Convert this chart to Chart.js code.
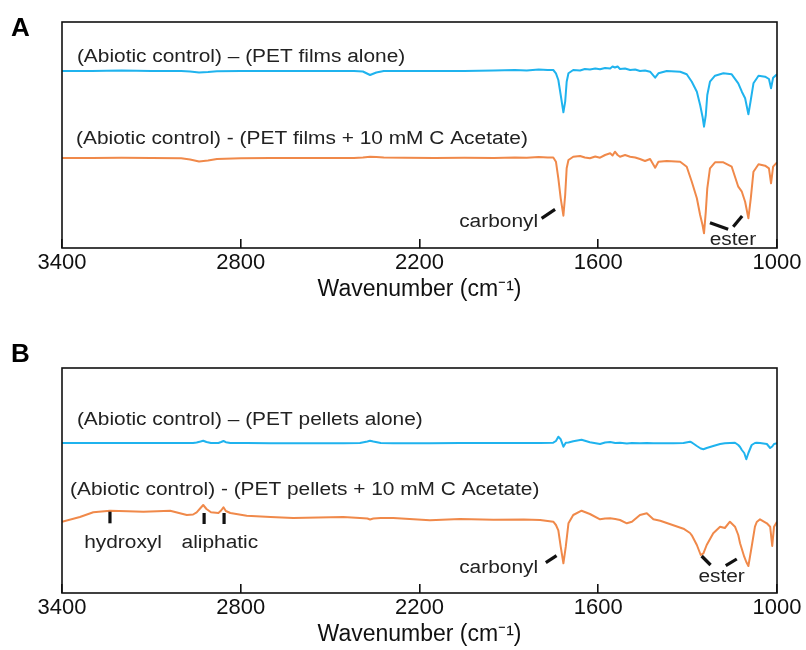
<!DOCTYPE html>
<html>
<head>
<meta charset="utf-8">
<script src="https://cdn.jsdelivr.net/npm/chart.js@4.4.1/dist/chart.umd.min.js"></script>
<style>
  html, body { margin: 0; padding: 0; background: #fff; }
  #wrap { position: relative; width: 806px; height: 650px; }
  canvas { position: absolute; left: 0; }
  #chartA { top: 0; }
  #chartB { top: 303px; }
</style>
</head>
<body>
<div id="wrap">
  <canvas id="chartA" width="806" height="303"></canvas>
  <canvas id="chartB" width="806" height="347"></canvas>
</div>
<script>
// === data (FTIR spectra, arbitrary offset units) ===
const xTicks = [3400, 2800, 2200, 1600, 1000];

const wnA = [3400, 3300, 3200, 3100, 3000, 2970, 2940, 2910, 2880, 2800,
  2700, 2600, 2500, 2420, 2390, 2366, 2345, 2320, 2250, 2150,
  2050, 1950, 1880, 1840, 1800, 1770, 1751, 1742, 1734, 1726,
  1717, 1711, 1706, 1700, 1684, 1661, 1645, 1628, 1610, 1594,
  1577, 1560, 1552, 1544, 1535, 1527, 1510, 1493, 1476, 1460,
  1443, 1426, 1409, 1398, 1370, 1325, 1303, 1286, 1269, 1258,
  1250, 1245, 1239, 1234, 1225, 1208, 1180, 1152, 1130, 1118,
  1107, 1096, 1088, 1079, 1062, 1040, 1027, 1020, 1013, 1000];
const filmsAlone = [177, 177, 177.5, 177, 177, 176.5, 175.5, 176, 176.8, 177,
  177, 177, 177, 177, 176.5, 173, 175.5, 177, 177, 177,
  177, 177.5, 178, 177.5, 178.5, 178, 178, 174.7, 168, 153,
  135.7, 146.3, 166.3, 174.7, 178, 177.5, 179, 178.5, 179.5, 178.7,
  180, 179.5, 181.5, 180.5, 181.5, 179, 179.5, 178, 178.5, 177,
  177.5, 176.3, 170.3, 174.7, 177, 176.3, 173.7, 166.3, 156.3, 143,
  131.3, 121.3, 133, 153, 166.3, 172.3, 174.7, 173.7, 164.7, 156.3,
  149.7, 133.7, 148, 164.7, 172.3, 171.3, 169, 159.7, 170.3, 173.7];
const filmsAcetate = [90, 90, 90.3, 90, 89.8, 88.5, 86.5, 87.5, 89, 89.7,
  90, 90, 90, 90, 90.5, 91.3, 91, 90.5, 90.3, 90,
  90.3, 90, 90.5, 90.3, 91, 90.5, 90.5, 86.3, 69.7, 49.7,
  32.3, 53, 79.7, 88, 91.3, 92, 90.5, 89.7, 91.5, 90.3,
  93, 94.7, 92.5, 96.3, 93, 91.3, 93, 91.3, 90.5, 89,
  87, 89, 80.3, 86.3, 87, 86.3, 81.3, 66.3, 49.7, 33,
  23, 14.7, 36.3, 59.7, 79.7, 85.7, 85.7, 81.3, 61.3, 56.3,
  46.3, 29.7, 49.7, 76.3, 83.7, 82.3, 79.7, 64.7, 81.3, 85.7];

const wnB = [3400, 3340, 3295, 3239, 3180, 3127, 3080, 3037, 2981, 2960,
  2948, 2935, 2926, 2915, 2900, 2875, 2866, 2858, 2850, 2835,
  2780, 2700, 2624, 2540, 2456, 2400, 2375, 2366, 2355, 2330,
  2288, 2165, 2064, 1952, 1850, 1795, 1751, 1742, 1734, 1726,
  1717, 1709, 1700, 1684, 1656, 1628, 1594, 1577, 1560, 1543,
  1527, 1504, 1487, 1460, 1437, 1415, 1392, 1348, 1314, 1292,
  1286, 1269, 1256, 1247, 1236, 1214, 1191, 1175, 1158, 1141,
  1130, 1124, 1118, 1110, 1103, 1096, 1085, 1074, 1068, 1057,
  1034, 1023, 1016, 1010, 1000];
const pelletsAlone = [150, 150, 150, 150, 150, 150, 150, 150, 150, 150,
  150.5, 151.5, 152.3, 151, 150, 150, 151, 152, 150.8, 150,
  150, 149.8, 149.8, 149.8, 149.8, 150, 151.5, 152.3, 151.5, 150,
  149.8, 149.8, 150, 150, 150, 150, 150.3, 152, 156.3, 153.7,
  146.3, 150.3, 150.5, 151.7, 153.3, 150.7, 149, 150.5, 151, 150,
  150.3, 149.5, 150, 149.7, 150, 149.7, 149.7, 149.7, 150, 151.3,
  150.5, 147, 144.5, 143.7, 145, 147, 149, 149.7, 150, 150.3,
  148, 146, 143, 140, 133.7, 140, 148, 150, 150.3, 150,
  149, 145, 146.5, 149, 149.7];
const pelletsAcetate = [71.3, 76, 80.7, 82.3, 81.8, 81.3, 81.8, 82.3, 78, 78.5,
  80.7, 85, 88, 84, 80.7, 80, 82.5, 85.7, 82, 80,
  77.3, 76, 75, 75.5, 76, 75, 74.5, 73.5, 74.5, 75,
  75, 72.7, 74, 73.3, 73.5, 73, 71.3, 68, 62.7, 46.3,
  29.7, 46.3, 69.7, 78, 82.3, 79, 73.7, 74.5, 74.7, 74,
  73, 69.7, 71.3, 78, 79.7, 73.7, 72.3, 67.7, 64.3, 60,
  57.7, 48, 38, 39.7, 48, 59.7, 66.3, 65, 71.3, 66.3,
  58, 49.7, 44, 36.3, 31, 27, 46.3, 66.3, 71, 73.7,
  69.7, 66.3, 47, 66.3, 71.3];

const BLUE = "#1fb3ee";
const ORANGE = "#f0894a";
const INK = "#222222";
const FONT = "'Liberation Sans', Arial, sans-serif";
const SX = 1.16; // the labels in the figure are a bit wider than plain Arial

function pts(xs, ys) {
  return xs.map((x, i) => ({ x: x, y: ys[i] }));
}

function wideText(ctx, text, x, y, align, size, bold) {
  ctx.save();
  ctx.translate(x, y);
  ctx.scale(SX, 1);
  ctx.font = (bold ? "bold " : "") + size + "px " + FONT;
  ctx.fillStyle = INK;
  ctx.textAlign = align;
  ctx.textBaseline = "middle";
  ctx.fillText(text, 0, 0);
  ctx.restore();
}

// === frame, labels and marker strokes ===
const decorPlugin = {
  id: "decor",
  afterDraw(chart, args, opts) {
    const { ctx, chartArea } = chart;
    const xs = chart.scales.x, ys = chart.scales.y;
    ctx.save();
    ctx.strokeStyle = "#111";
    ctx.lineWidth = 1.6;
    ctx.strokeRect(chartArea.left, chartArea.top, chartArea.right - chartArea.left, chartArea.bottom - chartArea.top);

    ctx.lineWidth = 3.2;
    ctx.lineCap = "butt";
    opts.marks.forEach(m => {
      ctx.beginPath();
      ctx.moveTo(xs.getPixelForValue(m[0]), ys.getPixelForValue(m[1]));
      ctx.lineTo(xs.getPixelForValue(m[2]), ys.getPixelForValue(m[3]));
      ctx.stroke();
    });
    ctx.restore();

    opts.texts.forEach(t => {
      wideText(ctx, t.text, xs.getPixelForValue(t.wn), ys.getPixelForValue(t.v), t.align, 18, false);
    });
    ctx.save();
    ctx.font = "bold 26px " + FONT;
    ctx.fillStyle = "#000";
    ctx.textBaseline = "middle";
    ctx.fillText(opts.letter, 11, opts.letterY);
    ctx.restore();
  }
};

function makeChart(id, wn, s1, s2, yMax, pad, decor) {
  return new Chart(document.getElementById(id), {
    type: "line",
    data: {
      datasets: [
        { data: pts(wn, s1), borderColor: BLUE, borderWidth: 2, pointRadius: 0, tension: 0, borderJoinStyle: "round" },
        { data: pts(wn, s2), borderColor: ORANGE, borderWidth: 2, pointRadius: 0, tension: 0, borderJoinStyle: "round" },
      ],
    },
    options: {
      responsive: false,
      animation: false,
      events: [],
      layout: { padding: pad },
      plugins: { legend: { display: false }, tooltip: { enabled: false }, decor: decor },
      scales: {
        x: {
          type: "linear",
          reverse: true,
          min: 1000,
          max: 3400,
          afterBuildTicks: s => { s.ticks = xTicks.map(v => ({ value: v })); },
          afterFit: s => { s.height = 55; s.paddingLeft = 0; s.paddingRight = 0; },
          ticks: {
            callback: v => String(v),
            color: "#111",
            font: { family: FONT, size: 22 },
            padding: 11,
            maxRotation: 0,
            autoSkip: false,
          },
          grid: { drawOnChartArea: false, drawTicks: true, tickLength: -9, color: "#111", lineWidth: 1.6 },
          border: { display: false },
          title: {
            display: true,
            text: "Wavenumber (cm\u207B\u00B9)",
            color: "#111",
            font: { family: FONT, size: 23 },
            padding: 0,
          },
        },
        y: { display: false, min: 0, max: yMax },
      },
    },
    plugins: [decorPlugin],
  });
}

makeChart("chartA", wnA, filmsAlone, filmsAcetate, 226,
  { left: 62, right: 29, top: 22, bottom: 0 },
  {
    letter: "A", letterY: 29,
    texts: [
      { text: "(Abiotic control) \u2013 (PET films alone)", wn: 3350, v: 191, align: "left" },
      { text: "(Abiotic control) - (PET films + 10 mM C Acetate)", wn: 3353, v: 109, align: "left" },
      { text: "carbonyl", wn: 1802, v: 26, align: "right" },
      { text: "ester", wn: 1148, v: 8, align: "center" },
    ],
    marks: [
      [1790, 29.7, 1745, 38.7],
      [1225, 25.3, 1164, 18.7],
      [1147, 21.3, 1117, 32],
    ],
  });

makeChart("chartB", wnB, pelletsAlone, pelletsAcetate, 225,
  { left: 62, right: 29, top: 65, bottom: 2 },
  {
    letter: "B", letterY: 52,
    texts: [
      { text: "(Abiotic control) \u2013 (PET pellets alone)", wn: 3350, v: 173, align: "left" },
      { text: "(Abiotic control) - (PET pellets + 10 mM C Acetate)", wn: 3373, v: 103, align: "left" },
      { text: "hydroxyl", wn: 3195, v: 50, align: "center" },
      { text: "aliphatic", wn: 2870, v: 50, align: "center" },
      { text: "carbonyl", wn: 1802, v: 25, align: "right" },
      { text: "ester", wn: 1186, v: 16, align: "center" },
    ],
    marks: [
      [3239, 81.3, 3239, 69.7],
      [2923, 80, 2923, 69],
      [2856, 80, 2856, 69],
      [1776, 30.3, 1740, 37.3],
      [1253, 37, 1223, 28],
      [1172, 27.3, 1135, 34],
    ],
  });
</script>
</body>
</html>
